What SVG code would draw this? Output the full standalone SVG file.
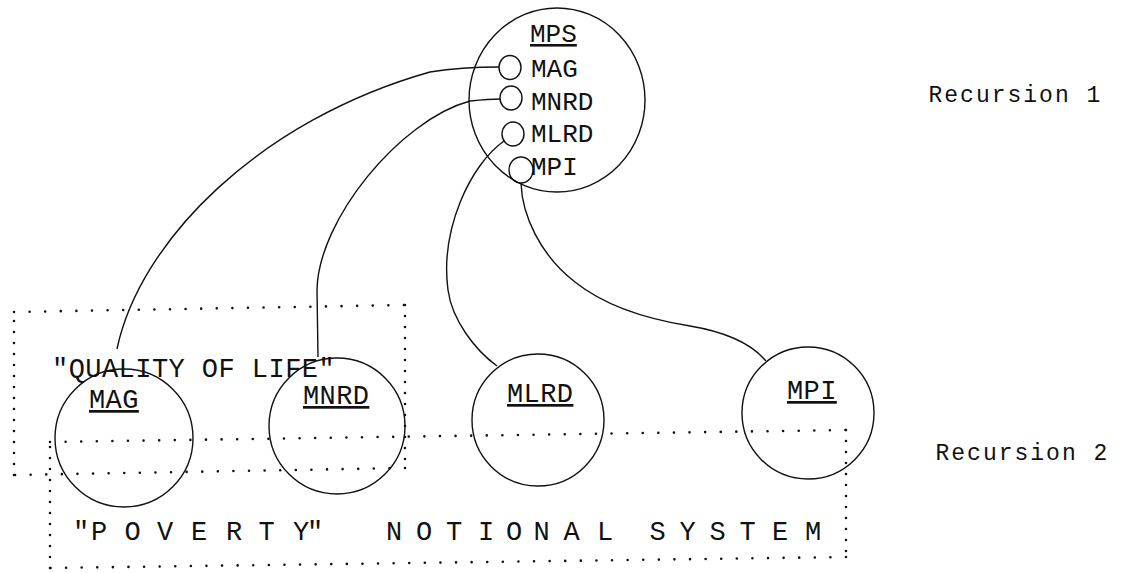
<svg xmlns="http://www.w3.org/2000/svg" width="1121" height="573" viewBox="0 0 1121 573">
<style>
.c{fill:none;stroke:#111;stroke-width:1.4}
.dot{fill:none;stroke:#111;stroke-width:2.6;stroke-linecap:round}
.h{stroke-dasharray:0 15.6}
.v{stroke-dasharray:0 11}
text{font-family:"Liberation Mono","DejaVu Sans Mono",monospace;fill:#111}
.lbl{font-size:27px;letter-spacing:0.4px;text-decoration:underline}
.in{font-size:26px}
.rec{font-size:23px;letter-spacing:2px}
.big{font-size:27px}
.ctr{text-anchor:middle}
</style>
<rect width="1121" height="573" fill="#fff"/>
<g id="quality-of-life-system">
<path class="dot h" d="M14 312 L405 305"/>
<path class="dot v" d="M405 305 L405 468"/>
<path class="dot h" d="M405 468 L14 475"/>
<path class="dot v" d="M14 475 L14 312"/>
<text class="big" x="52" y="377" style="letter-spacing:0.45px">"QUALITY OF LIFE"</text>
</g>
<g id="poverty-notional-system">
<path class="dot h" d="M50 442 L846 430"/>
<path class="dot v" d="M846 430 L846 557"/>
<path class="dot h" d="M846 557 L50 568"/>
<path class="dot v" d="M50 568 L50 442"/>
<text class="big ctr" y="540" x="81 99 132.5 165 199 234 266.5 301 315">"POVERTY"</text>
<text class="big ctr" y="540" x="394 424 454 486 514 541.5 571.5 605">NOTIONAL</text>
<text class="big ctr" y="540" x="657.5 687.5 717.5 747.5 780 813">SYSTEM</text>
</g>
<g id="node-mps">
<ellipse class="c" cx="557" cy="100" rx="88" ry="92"/>
<text class="in" x="530" y="42" style="text-decoration:underline">MPS</text>
<ellipse class="c" cx="510" cy="67.5" rx="11" ry="12"/>
<text class="in" x="531" y="77">MAG</text>
<ellipse class="c" cx="511" cy="98" rx="11" ry="12"/>
<text class="in" x="531" y="110">MNRD</text>
<ellipse class="c" cx="513" cy="134" rx="11" ry="12"/>
<text class="in" x="531" y="142">MLRD</text>
<ellipse class="c" cx="521" cy="170" rx="12" ry="13"/>
<text class="in" x="531" y="175">MPI</text>
</g>
<g id="node-mag">
<circle class="c" cx="124" cy="438" r="69"/>
<text class="lbl" x="89" y="408">MAG</text>
</g>
<g id="node-mnrd">
<circle class="c" cx="337" cy="426" r="68"/>
<text class="lbl" x="303" y="404">MNRD</text>
</g>
<g id="node-mlrd">
<circle class="c" cx="538" cy="420" r="66"/>
<text class="lbl" x="507" y="402">MLRD</text>
</g>
<g id="node-mpi">
<circle class="c" cx="808" cy="413" r="66"/>
<text class="lbl" x="787" y="399">MPI</text>
</g>
<g id="connectors">
<path class="c" d="M499 67 C480 67 455 68 430 72 C260 120 140 240 117 349"/>
<path class="c" d="M500 99 C490 99 480 100 470 101 C400 120 318 220 317 290 L318 357"/>
<path class="c" d="M504 141 C470 165 440 230 448 290 C452 320 475 350 497 366"/>
<path class="c" d="M521 183 C522 215 540 255 575 282 C600 302 640 318 690 326 C720 331 750 342 766 361"/>
</g>
<g id="recursion-labels">
<text class="rec" x="928.5" y="102">Recursion 1</text>
<text class="rec" x="935.5" y="460">Recursion 2</text>
</g>
</svg>
